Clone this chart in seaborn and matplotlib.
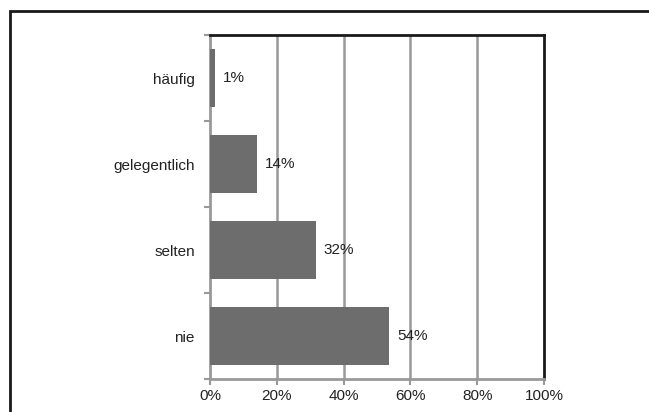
import matplotlib
matplotlib.use("Agg")
import matplotlib.pyplot as plt
import seaborn as sns
import pandas as pd
from matplotlib.patches import Rectangle

# chart data
categories = ["häufig", "gelegentlich", "selten", "nie"]
shares = [1.4, 14.0, 31.6, 53.6]
value_labels = ["1%", "14%", "32%", "54%"]
x_ticks = [0, 20, 40, 60, 80, 100]
x_tick_labels = ["0%", "20%", "40%", "60%", "80%", "100%"]

df = pd.DataFrame({"category": categories, "share": shares})

sns.set_style("white")
plt.rcParams["font.family"] = ["Liberation Sans", "DejaVu Sans"]

fig = plt.figure(figsize=(6.49, 4.12), dpi=100)
ax = fig.add_axes([210 / 649, 33 / 412, 334 / 649, 344 / 412])

sns.barplot(data=df, x="share", y="category", orient="h", color="#6d6d6d",
            width=0.67, saturation=1, linewidth=0, ax=ax, zorder=3)

ax.set_xlim(0, 100)
ax.set_ylim(3.5, -0.5)
ax.set_xticks(x_ticks)
ax.set_xticklabels(x_tick_labels, fontsize=11, color="#222222")
ax.tick_params(axis="y", labelsize=11, labelcolor="#222222", length=0, pad=11)
ax.tick_params(axis="x", bottom=True, length=4, color="#999999", width=1.5, pad=3)
ax.set_xlabel("")
ax.set_ylabel("")

# category boundary ticks on the left axis
ax.set_yticks([-0.5, 0.5, 1.5, 2.5, 3.5], minor=True)
ax.tick_params(axis="y", which="minor", left=True, length=4, color="#999999", width=1.5)

# gridlines
ax.grid(False)
for v in x_ticks[1:-1]:
    ax.axvline(v, color="#999999", lw=1.8, zorder=1)

for side in ["left", "bottom"]:
    ax.spines[side].set_color("#999999")
    ax.spines[side].set_linewidth(2)
for side in ["top", "right"]:
    ax.spines[side].set_color("#1a1a1a")
    ax.spines[side].set_linewidth(2)

ax.bar_label(ax.containers[0], labels=value_labels, padding=6, fontsize=11,
             color="#222222")

# outer chart frame (runs off the right and bottom edges)
fig.patches.append(Rectangle((9.5 / 649, -0.05), 1.0, (412 - 10.5) / 412 + 0.05,
                             transform=fig.transFigure, fill=False,
                             edgecolor="#1a1a1a", lw=2, figure=fig))

fig.savefig("out.png", dpi=100)
